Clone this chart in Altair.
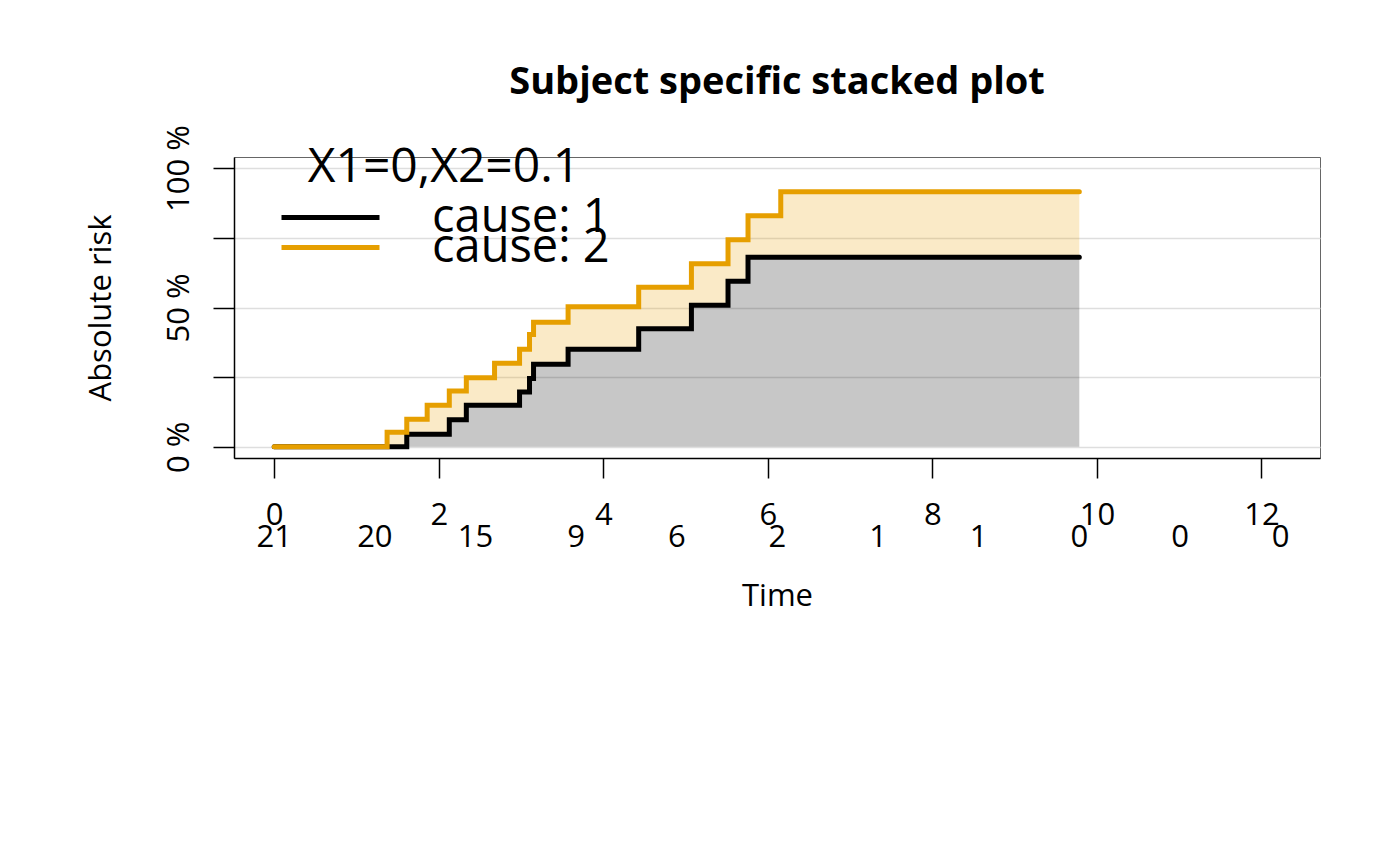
import altair as alt
import pandas as pd

# ---- data ----
times = [0, 1.372, 1.611, 1.859, 2.128, 2.335, 2.678, 2.982, 3.103, 3.152,
         3.572, 4.430, 5.071, 5.516, 5.759, 6.157, 9.786]
cause1 = [0, 0, 4.5, 4.5, 9.7, 14.9, 14.9, 19.7, 24.5, 29.6,
          35.0, 42.4, 50.8, 59.4, 68.0, 68.0, 68.0]
total = [0, 5.2, 9.9, 14.9, 20.0, 24.8, 30.0, 35.0, 40.3, 44.7,
         50.3, 57.3, 65.7, 74.3, 82.9, 91.5, 91.5]

risk_times = [0, 1.223, 2.447, 3.670, 4.893, 6.117, 7.340, 8.563, 9.786, 11.010, 12.233]
at_risk = [21, 20, 15, 9, 6, 2, 1, 1, 0, 0, 0]

x_ticks = [0, 2, 4, 6, 8, 10, 12]
y_ticks = [0, 25, 50, 75, 100]
causes = ["cause: 1", "cause: 2"]
colors = ["#000000", "#E69F00"]
legend_title = "X1=0,X2=0.1"

FONT = "Open Sans"

area_df = pd.DataFrame({"time": times, "c1": cause1, "tot": total, "zero": [0] * len(times)})
c1_df = pd.DataFrame({"time": times, "risk": cause1, "cause": [causes[0]] * len(times)})
c2_df = pd.DataFrame({"time": times, "risk": total, "cause": [causes[1]] * len(times)})
risk_df = pd.DataFrame({"time": risk_times, "n": at_risk})

xscale = alt.Scale(domain=[-0.489, 12.7115], nice=False, zero=False)
yscale = alt.Scale(domain=[-4, 104], nice=False, zero=False)

x_axis = alt.Axis(
    values=x_ticks, title="Time", tickSize=20, labelPadding=46, format="d",
    labelBaseline="alphabetic", labelFlush=False, labelOverlap=False,
    grid=False, titleX=543, titleY=147, titleBaseline="alphabetic",
)
y_axis = alt.Axis(
    values=y_ticks, title="Absolute risk", tickSize=21, labelPadding=25,
    labelAngle=270, labelAlign="center", labelBaseline="alphabetic",
    labelExpr="datum.value % 50 == 0 ? datum.value + ' %' : ''",
    grid=True, gridColor="#dedede", gridWidth=1.5,
    titleAngle=270, titleX=-124, titleY=150.5, titleBaseline="alphabetic",
    titleAlign="center",
)

legend_common = dict(
    orient="none", legendX=45,
    titleFontSize=48, titleFontWeight="normal", titleFont=FONT,
    titleColor="black", titleAnchor="middle", titleLimit=600,
    labelFontSize=47, labelFont=FONT, labelColor="black", labelLimit=600,
    symbolType="stroke", symbolSize=9604, symbolStrokeWidth=5,
    labelOffset=50, rowPadding=0, padding=0, clipHeight=15,
)

base_area = alt.Chart(area_df)
area1 = base_area.mark_area(interpolate="step-after", color="black", opacity=0.22).encode(
    x=alt.X("time:Q", scale=xscale, axis=x_axis),
    y=alt.Y("c1:Q", scale=yscale, axis=y_axis),
    y2="zero:Q",
)
area2 = base_area.mark_area(interpolate="step-after", color="#E69F00", opacity=0.22).encode(
    x=alt.X("time:Q", scale=xscale),
    y=alt.Y("tot:Q", scale=yscale),
    y2="c1:Q",
)

line_style = dict(interpolate="step-after", strokeWidth=5, strokeCap="round", strokeJoin="miter")

line1 = alt.Chart(c1_df).mark_line(**line_style).encode(
    x=alt.X("time:Q", scale=xscale),
    y=alt.Y("risk:Q", scale=yscale),
    color=alt.Color(
        "cause:N",
        scale=alt.Scale(domain=[causes[0]], range=[colors[0]]),
        legend=alt.Legend(title=legend_title, legendY=-13, titlePadding=18, **legend_common),
    ),
)
line2 = alt.Chart(c2_df).mark_line(**line_style).encode(
    x=alt.X("time:Q", scale=xscale),
    y=alt.Y("risk:Q", scale=yscale),
    color=alt.Color(
        "cause:N",
        scale=alt.Scale(domain=[causes[1]], range=[colors[1]]),
        legend=alt.Legend(title=None, legendY=83, **legend_common),
    ),
)

risk_text = alt.Chart(risk_df).mark_text(
    font=FONT, fontSize=31, baseline="alphabetic", align="center", color="black"
).encode(
    x=alt.X("time:Q", scale=xscale),
    y=alt.value(390),
    text="n:Q",
)

chart = alt.layer(area1, area2, line1, line2, risk_text).resolve_scale(
    color="independent"
).properties(
    width=1086, height=301,
    autosize=alt.AutoSizeParams(type="none"),
    padding={"left": 226, "top": 149, "right": 72, "bottom": 400},
    title=alt.TitleParams(
        "Subject specific stacked plot", fontSize=38, fontWeight="bold", font=FONT,
        anchor="middle", baseline="alphabetic", offset=-7, color="black",
    ),
).configure_view(
    stroke="#666666", strokeWidth=1
).configure_axis(
    domainColor="black", domainWidth=1.5, tickColor="black", tickWidth=1.5,
    labelFont=FONT, labelFontSize=31, labelColor="black",
    titleFont=FONT, titleFontSize=31, titleFontWeight="normal", titleColor="black",
)

chart.save("out.html", embed_options={"renderer": "svg", "actions": False})
